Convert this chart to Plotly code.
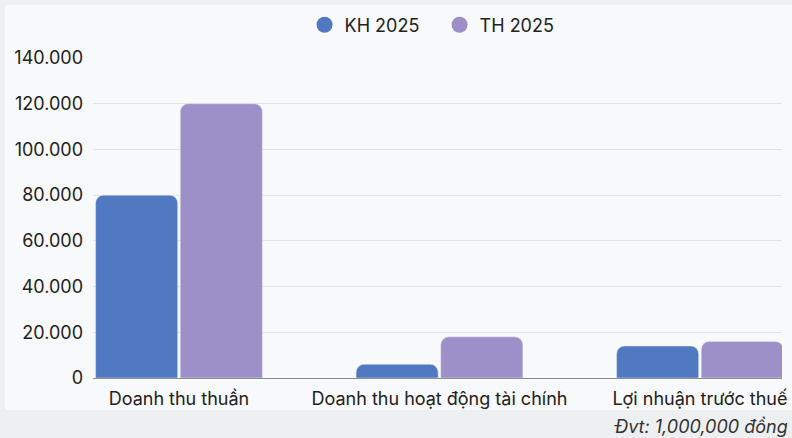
import plotly.graph_objects as go

categories = ["Doanh thu thuần", "Doanh thu hoạt động tài chính", "Lợi nhuận trước thuế"]
kh_2025 = [80000, 6000, 14000]
th_2025 = [120000, 18000, 16000]
series_names = ["KH 2025", "TH 2025"]
y_ticks = [0, 20000, 40000, 60000, 80000, 100000, 120000, 140000]
y_tick_labels = ["0", "20.000", "40.000", "60.000", "80.000", "100.000", "120.000", "140.000"]
unit_note = "Đvt: 1,000,000 đồng"

colors = ["#5079c2", "#9d8fc7"]
font_family = "Inter, Roboto, sans-serif"

fig = go.Figure()
for name, vals, col in zip(series_names, [kh_2025, th_2025], colors):
    fig.add_trace(go.Bar(x=categories, y=vals, name=name, marker_color=col,
                         showlegend=False, hoverinfo="y"))
for name, col in zip(series_names, colors):
    fig.add_trace(go.Scatter(x=[None], y=[None], mode="markers", name=name,
                             marker=dict(symbol="circle", size=17, color=col)))

fig.update_layout(
    width=792, height=438,
    margin=dict(l=93, r=10, t=58, b=60, autoexpand=False),
    paper_bgcolor="#eeeff1",
    plot_bgcolor="rgba(0,0,0,0)",
    barmode="group",
    bargap=0.35,
    bargroupgap=0.03,
    barcornerradius=8,
    font=dict(family=font_family, size=18, color="#222222"),
    legend=dict(orientation="h", x=0.503, xanchor="center", y=1.103, yanchor="middle",
                font=dict(size=18, color="#222222"), bgcolor="rgba(0,0,0,0)",
                itemwidth=30, tracegroupgap=0, entrywidth=90, entrywidthmode="pixels"),
    xaxis=dict(range=[-0.33, 2.315], showgrid=False, showline=True,
               linecolor="#8a8d92", linewidth=1, ticks="", fixedrange=True,
               ticklabelstandoff=4, automargin=False,
               tickfont=dict(size=18, color="#222222")),
    yaxis=dict(range=[0, 140000], tickvals=y_ticks, ticktext=y_tick_labels,
               showgrid=True, gridcolor="#e2e4e7", gridwidth=1, zeroline=False,
               showline=False, ticks="", ticklabelstandoff=9, fixedrange=True,
               automargin=False,
               tickfont=dict(size=18, color="#222222")),
    shapes=[dict(type="rect", xref="paper", yref="paper",
                 x0=-0.1277, x1=1.03, y0=-0.1, y1=1.1656,
                 fillcolor="#f8f9fb", line=dict(width=0), layer="below")],
    annotations=[dict(text=unit_note, xref="paper", yref="paper",
                      x=1.0116, y=-0.153, xanchor="right", yanchor="middle",
                      showarrow=False,
                      font=dict(size=18, color="#333333", family=font_family, style="italic"))],
)

fig.write_html("out.html", config={"displayModeBar": False},
               post_script="document.body.style.margin='0';document.body.style.overflow='hidden';")
